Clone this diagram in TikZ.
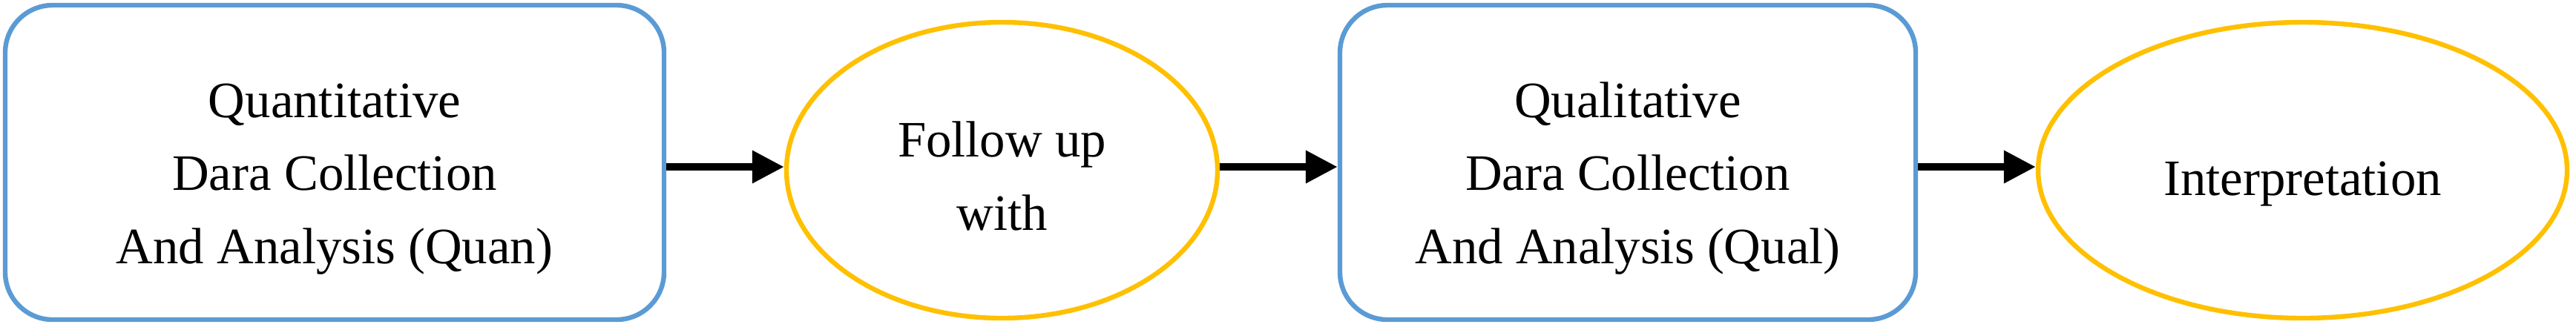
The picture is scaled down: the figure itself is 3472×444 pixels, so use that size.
\documentclass[tikz,border=0pt]{standalone}
\usepackage{fontspec}
\setmainfont{Liberation Serif}
\usetikzlibrary{arrows.meta,shapes.geometric}
\definecolor{boxblue}{HTML}{5B9BD5}
\definecolor{ellorange}{HTML}{FFC000}
\newcommand\stacktext[2]{\raisebox{#1}[\height][\depth]{\begin{tabular}{@{}c@{}}#2\end{tabular}}}
\begin{document}
\begin{tikzpicture}[x=0.25pt,y=-0.25pt,
  txt/.style={font=\fontsize{17.2}{24.6}\selectfont,text=black},
  stepbox/.style={draw=boxblue,line width=1.6pt,rounded corners=16pt,inner sep=0pt,txt},
  stepell/.style={draw=ellorange,line width=1.6pt,ellipse,inner sep=0pt,txt},
  flow/.style={line width=2.5pt,-{Triangle[length=10.75pt,width=10.5pt]}}]
\useasboundingbox (0,0) rectangle (3472,444);
\node[stepbox,minimum width=222pt,minimum height=106pt] (b1) at (451,219)
  {\stacktext{-4.5pt}{Quantitative\\Dara Collection\\And Analysis (Quan)}};
\node[stepell,minimum width=145.25pt,minimum height=99.75pt] (e1) at (1350.5,229.5)
  {\stacktext{-3pt}{Follow up\\with}};
\node[stepbox,minimum width=194pt,minimum height=106pt] (b2) at (2194,219)
  {\stacktext{-4.5pt}{Qualitative\\Dara Collection\\And Analysis (Qual)}};
\node[stepell,minimum width=178.25pt,minimum height=99.75pt] (e2) at (3103.5,229.5)
  {\stacktext{-3.5pt}{Interpretation}};
\draw[flow] ([yshift=-1.5pt]b1.east) -- ([yshift=-1.5pt]b1.east -| e1.west);
\draw[flow] ([yshift=-1.5pt]b2.west -| e1.east) -- ([yshift=-1.5pt]b2.west);
\draw[flow] ([yshift=-1.5pt]b2.east) -- ([yshift=-1.5pt]b2.east -| e2.west);
\end{tikzpicture}
\end{document}
